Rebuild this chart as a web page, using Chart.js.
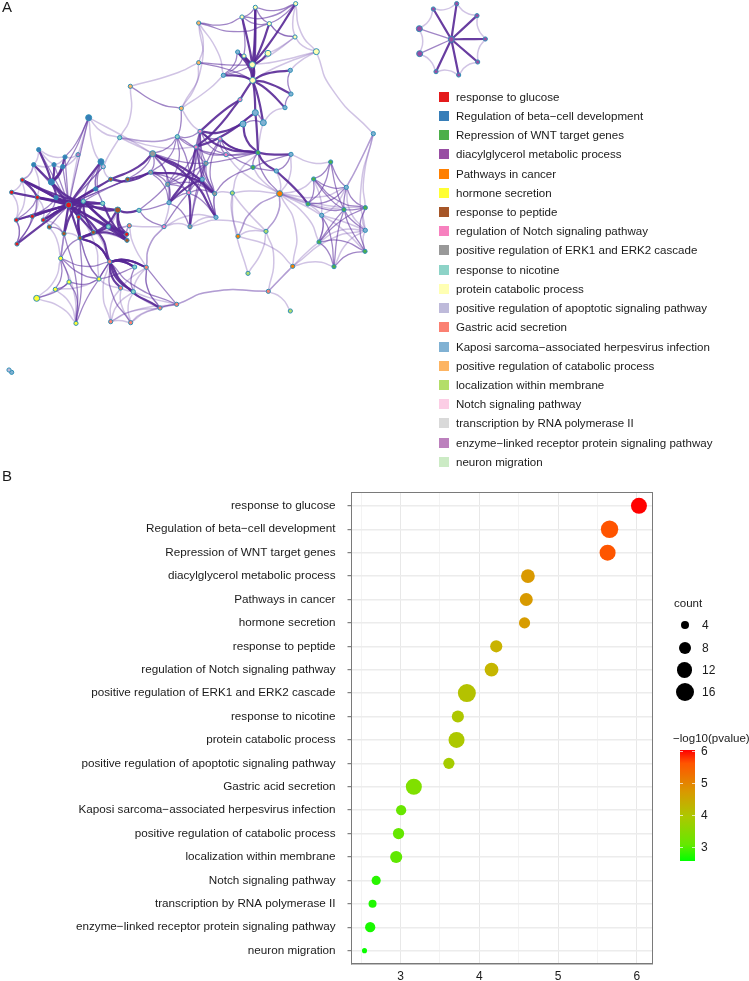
<!DOCTYPE html>
<html><head><meta charset="utf-8">
<style>
html,body{margin:0;padding:0;background:#fff;width:749px;height:981px;overflow:hidden;font-family:"Liberation Sans",Arial,sans-serif;color:#1a1a1a}
canvas{position:absolute;left:0}
.t{position:absolute;white-space:nowrap;line-height:14px;font-size:11.55px}
.s{position:absolute;width:10px;height:10px}
.c{position:absolute;background:#000;border-radius:50%}
</style>
<script src="https://cdn.jsdelivr.net/npm/chart.js@4"></script>
</head><body>
<canvas id="net" width="749" height="470" style="top:0"></canvas>
<canvas id="dots" width="749" height="513" style="top:470px"></canvas>
<div id="legends"></div>
<script>
// ---- Panel B values
const termLabels = ["response to glucose","Regulation of beta\u2212cell development","Repression of WNT target genes","diacylglycerol metabolic process","Pathways in cancer","hormone secretion","response to peptide","regulation of Notch signaling pathway","positive regulation of ERK1 and ERK2 cascade","response to nicotine","protein catabolic process","positive regulation of apoptotic signaling pathway","Gastric acid secretion","Kaposi sarcoma\u2212associated herpesvirus infection","positive regulation of catabolic process","localization within membrane","Notch signaling pathway","transcription by RNA polymerase II","enzyme\u2212linked receptor protein signaling pathway","neuron migration"];
const logP = [6.026,5.653,5.628,4.617,4.596,4.574,4.215,4.155,3.842,3.728,3.711,3.614,3.169,3.008,2.975,2.945,2.691,2.645,2.615,2.543];
const counts = [13,15,13,10,9,7,8,10,16,8,13,7,13,6,7,8,5,4,6,2];
const xTicks = [3,4,5,6];
const sizeLegend = [4,8,12,16];
const colorbarTicks = [6,5,4,3];
// ---- Panel A legend colours (same order as termLabels)
const clusterColors = ["#e41a1c","#377eb8","#4daf4a","#984ea3","#ff7f00","#ffff33","#a65628","#f781bf","#999999","#8dd3c7","#ffffb3","#bebada","#fb8072","#80b1d3","#fdb462","#b3de69","#fccde5","#d9d9d9","#bc80bd","#ccebc5"];
// ---- Panel A network layout
const nodeX = [766,887,726,808,885,949,804,713,732,757,758,670,871,873,855,720,766,729,790,596,596,391,544,1120,359,532,600,660,588,678,458,452,618,607,503,566,644,507,648,570,492,774,759,873,829,697,839,992,941,924,1039,1032,1096,965,1096,957,1095,1002,878,714,798,744,871,805,530,480,439,404,400,362,329,332,392,182,207,297,166,110,228,381,380,388,325,417,353,383,332,310,303,266,234,195,116,101,162,188,154,168,67,35,112,206,250,287,308,49,97,130,148,51,192,240,280,236,1354,1370,1431,1456,1433,1376,1308,1259,1258,1300,35,27];
const nodeY = [22,11,51,71,111,155,160,156,168,194,241,226,211,282,323,299,338,372,368,69,188,259,325,401,413,410,394,417,441,464,461,517,490,538,553,578,581,608,652,680,680,458,502,463,513,579,581,486,537,612,562,629,623,646,691,726,754,800,799,709,694,820,933,874,913,924,802,801,875,864,785,965,968,775,846,837,868,895,970,721,703,677,680,631,630,538,538,500,485,353,464,471,449,494,494,500,546,593,540,577,592,615,604,567,610,660,649,660,681,732,701,714,697,651,118,11,47,117,186,225,215,161,86,27,1117,1110];
const nodeCluster = [10,10,10,10,10,10,10,13,10,10,10,13,13,13,13,7,13,13,13,14,14,14,14,13,9,9,7,7,7,7,8,8,8,13,8,7,8,13,13,8,7,2,2,13,13,15,4,2,2,2,13,2,2,13,13,2,2,2,4,4,15,15,15,12,12,12,12,9,9,12,12,12,12,5,5,5,5,5,5,6,0,12,9,9,6,6,6,11,1,1,18,1,1,1,1,1,1,1,0,0,0,0,9,1,9,0,0,0,6,0,6,6,6,0,3,3,3,3,3,3,3,3,3,3,13,11];
const largeNodes = [5,10,9,6,46,77,84,88,89,101,96,121,122,30,16,17,18,114];
const bundleCenters = [[205,610],[260,880],[770,210],[590,510],[1010,650],[1354,118],[340,690]];
const heavyEdges = [[101,[97,100,96,98,99,106,107,102,104,113,110,111,112,86,84,80,79,103,88,70,109,105]],[102,[97,100,106,107,96,113,110,111,98,84,79,80,112,104]],[96,[92,94,95,93,97,91]],[98,[100,97]],[111,[70,70,82,84,113,112]],[70,[67,67,66,66,69,68,65]],[84,[79,80,83]],[79,[112,104]],[85,[31]],[86,[31]],[30,[86]],[10,[0,16,15,18,13,14,12,11,9,8,7]],[9,[0,2,3,7,8,6]],[1,[9]],[41,[16,17,26,44,27,43]],[17,[26]],[15,[28,26]],[16,[28]],[35,[39]],[31,[36]],[30,[36,38]],[33,[37]],[28,[37]],[44,[49]],[114,[115,116,117,118,119,120,123]]];
const mediumEdges = [[114,[121,122]],[101,[93,92,94,95,91,108,87,85]],[89,[96,101,91]],[88,[104,103,102]],[109,[106,105,100]],[105,[100,106]],[106,[97]],[107,[97]],[108,[110]],[85,[30,102,101]],[83,[40,37,34]],[70,[64,72,75]],[66,[65,64]],[67,[68]],[73,[74,75,76,111,70]],[74,[75,76,77,78]],[78,[75,111,110]],[75,[111,67,70]],[65,[64]],[19,[2,3]],[20,[10,9]],[21,[22]],[22,[25]],[25,[26,34,35,28,30,31,41]],[26,[27,28,29,32,36,33,35,34]],[27,[29,36,33,41]],[28,[29,32,35,36,38]],[30,[31,34,37,32]],[31,[34,37,35,33]],[32,[33,34,35,36,39]],[33,[35,36,38,39]],[34,[35,37,36]],[35,[36,38,37,40]],[37,[39]],[41,[42,46,29,32]],[42,[44,27,36]],[43,[44,42]],[47,[48,51,49,50]],[48,[49,50,51,52]],[49,[50,51]],[50,[52,51]],[51,[52,56,57,55,54]],[52,[56,55]],[55,[57,53,56]],[57,[56,53]],[0,[2,3,1]],[2,[3,8,1]],[3,[1,4]],[11,[7,8,9]],[12,[13]],[7,[8]],[13,[14]],[16,[17,18]],[17,[18]],[36,[38]]];
const lightEdges = [[124,[125]],[115,[116,123]],[116,[117]],[117,[118]],[118,[119]],[119,[120]],[120,[121]],[121,[122]],[122,[123]],[101,[73,70,75,87]],[73,[77,78,110,108]],[76,[77,78,75]],[77,[78]],[71,[72,68,69,64,65,70]],[72,[68,69,64,65]],[68,[64,65,69,66]],[69,[66,75]],[66,[81,40,70]],[64,[63,63]],[63,[58,62,60,58]],[58,[57,55,59,46,54]],[59,[46,45,60]],[60,[45,61,46]],[61,[45]],[5,[23,9,10,12,4,1]],[4,[1,3,6,9]],[23,[50,52,54,50]],[19,[20,22,11]],[20,[21,22]],[21,[24]],[22,[26,11]],[24,[25,30,87,28]],[89,[24,87,30,90]],[90,[91,101]],[25,[24]],[14,[18]],[18,[41]],[43,[46,47]],[44,[46]],[46,[42,45,29,48,49,50,51,52,53,60,59,55]],[45,[41,36]],[53,[55,54,48,49,50,56]],[54,[56,55,50,57,52]],[81,[79,80,111,112,40]],[82,[80,79,84]],[83,[84]],[40,[66,39,38,34]],[39,[38,60]],[38,[36]],[65,[70,66]],[93,[94,92,98]],[92,[94,91]],[94,[95,91]],[98,[99,105,93]],[99,[105,100]],[105,[109]],[95,[91,90]],[100,[93,106,107]],[107,[108,110]],[110,[111,73]],[111,[112,75]],[112,[82,79]],[103,[86,88]],[86,[85,87]]];

// ---- Drawing helpers
const NET_W = 2247, NET_H = 1410;
function bendPoint(a, b, k) {
  const mx = (nodeX[a] + nodeX[b]) / 2, my = (nodeY[a] + nodeY[b]) / 2;
  let best = bundleCenters[0], bd = Infinity;
  for (const c of bundleCenters) { const d = Math.hypot(c[0]-mx, c[1]-my); if (d < bd) { bd = d; best = c; } }
  const len = Math.hypot(nodeX[a]-nodeX[b], nodeY[a]-nodeY[b]);
  const reach = Math.min(bd * k, len * 0.13);
  const s = bd > 0 ? reach / bd : 0;
  return {x: mx + (best[0]-mx)*s, y: my + (best[1]-my)*s};
}
function edgeDatasets(list, color, width, k) {
  const out = [];
  for (const [a, targets] of list) for (const b of targets) {
    out.push({type:'line', order:1, data:[{x:nodeX[a],y:nodeY[a]}, bendPoint(a,b,k), {x:nodeX[b],y:nodeY[b]}],
      borderColor:color, borderWidth:width, pointRadius:0, tension:0.6, fill:false});
  }
  return out;
}
new Chart(document.getElementById('net'), {
  type:'scatter',
  data:{datasets:[
    {order:0, data:nodeX.map((x,i)=>({x,y:nodeY[i]})),
     backgroundColor:nodeCluster.map(c=>clusterColors[c]), borderColor:'#2f8fb5', borderWidth:1,
     pointRadius:nodeX.map((_,i)=>largeNodes.includes(i)?3:2.1), pointHoverRadius:3},
    ...edgeDatasets(heavyEdges,'rgba(88,40,150,0.9)',2.2,0.45),
    ...edgeDatasets(mediumEdges,'rgba(96,52,160,0.6)',1.3,0.4),
    ...edgeDatasets(lightEdges,'rgba(125,90,180,0.36)',1.5,0.3)
  ]},
  options:{responsive:false,maintainAspectRatio:false,animation:false,layout:{padding:0,autoPadding:false},
    plugins:{legend:{display:false},tooltip:{enabled:false}},events:[],
    scales:{x:{type:'linear',min:0,max:NET_W,display:false},y:{type:'linear',min:0,max:NET_H,reverse:true,display:false}}}
});

const colorStops = [[2.5,[0,255,0]],[2.95,[96,232,0]],[3.17,[128,224,0]],[3.7,[172,200,0]],[4.2,[200,180,0]],[4.6,[216,154,0]],[5.65,[255,85,0]],[6.03,[255,0,0]]];
function pColor(v){
  for(let i=1;i<colorStops.length;i++){const [a,ca]=colorStops[i-1],[b,cb]=colorStops[i];
    if(v<=b){const t=Math.max(0,(v-a)/(b-a));return `rgb(${ca.map((c,j)=>Math.round(c+(cb[j]-c)*t)).join(',')})`;}}
  return 'rgb(255,0,0)';
}
const countRadius = c => 2.5*Math.sqrt(c)-1;
const panelBorder = {id:'panelBorder',afterDraw(ch){const a=ch.chartArea,c=ch.ctx;c.save();c.strokeStyle='#7a7a7a';c.lineWidth=1;c.strokeRect(a.left,a.top,a.right-a.left,a.bottom-a.top);c.restore();}};
new Chart(document.getElementById('dots'), {
  type:'scatter',
  data:{datasets:[{data:logP.map((x,i)=>({x,y:i})),backgroundColor:logP.map(pColor),borderWidth:0,pointRadius:counts.map(countRadius),pointHoverRadius:counts.map(countRadius)}]},
  plugins:[panelBorder],
  options:{responsive:false,maintainAspectRatio:false,animation:false,events:[],
    layout:{padding:{left:0,right:96.5,top:22.5,bottom:0},autoPadding:false},
    plugins:{legend:{display:false},tooltip:{enabled:false}},
    scales:{
      x:{type:'linear',min:2.378,max:6.198,
        afterBuildTicks(s){const t=[];for(let v=2.5;v<=6;v+=0.5)t.push({value:v});s.ticks=t;},
        afterFit(s){s.height=19;},
        border:{color:'#7a7a7a'},
        grid:{color:c=>Number.isInteger(c.tick.value)?'#e8e8e8':'#f0f0f0',lineWidth:c=>Number.isInteger(c.tick.value)?1:0.8,drawTicks:false},
        ticks:{autoSkip:false,maxRotation:0,padding:6,color:'#1a1a1a',font:{family:'"Liberation Sans"',size:12},callback:v=>xTicks.includes(v)?String(v):''}},
      y:{type:'linear',reverse:true,min:-0.57,max:19.57,
        afterBuildTicks(s){s.ticks=termLabels.map((_,i)=>({value:i}));},
        afterFit(s){s.width=351.5;},
        border:{color:'#7a7a7a'},
        grid:{color:'#ececec',lineWidth:1.4,tickColor:'#666',tickWidth:1,tickLength:4},
        ticks:{autoSkip:false,padding:12,color:'#1a1a1a',font:{family:'"Liberation Sans"',size:11.7},callback:v=>termLabels[v]}}
    }}
});

// ---- Legends
const L = document.getElementById('legends');
function text(s,x,y,size){const d=document.createElement('div');d.className='t';d.textContent=s;d.style.left=x+'px';d.style.top=(y-7)+'px';if(size)d.style.fontSize=size+'px';L.appendChild(d);return d;}
text('A',2,7,15);text('B',2,476,15);
termLabels.forEach((s,i)=>{const y=96.7+i*19.22;const q=document.createElement('div');q.className='s';q.style.left='438.5px';q.style.top=(y-5)+'px';q.style.background=clusterColors[i];L.appendChild(q);text(s,456,y);});
text('count',674,602.5);
sizeLegend.forEach((c,i)=>{const y=625.3+i*22.3,r=countRadius(c);const d=document.createElement('div');d.className='c';d.style.left=(684.7-r)+'px';d.style.top=(y-r)+'px';d.style.width=d.style.height=(2*r)+'px';L.appendChild(d);text(String(c),702,y,12);});
text('\u2212log10(pvalue)',673,738);
const bar=document.createElement('div');bar.style.cssText='position:absolute;left:680px;top:750px;width:15px;height:111px;background:linear-gradient(to top,rgb(0,255,0) 0%,rgb(102,232,0) 15%,rgb(172,200,0) 40%,rgb(216,154,0) 62%,rgb(255,85,0) 88%,rgb(255,0,0) 100%)';L.appendChild(bar);
colorbarTicks.forEach((v,i)=>{const y=751+i*31.9;text(String(v),701,y,12);[680,692].forEach(x=>{const m=document.createElement('div');m.style.cssText=`position:absolute;left:${x}px;top:${y}px;width:3px;height:1px;background:rgba(255,255,255,.7)`;L.appendChild(m);});});
</script>
</body></html>
